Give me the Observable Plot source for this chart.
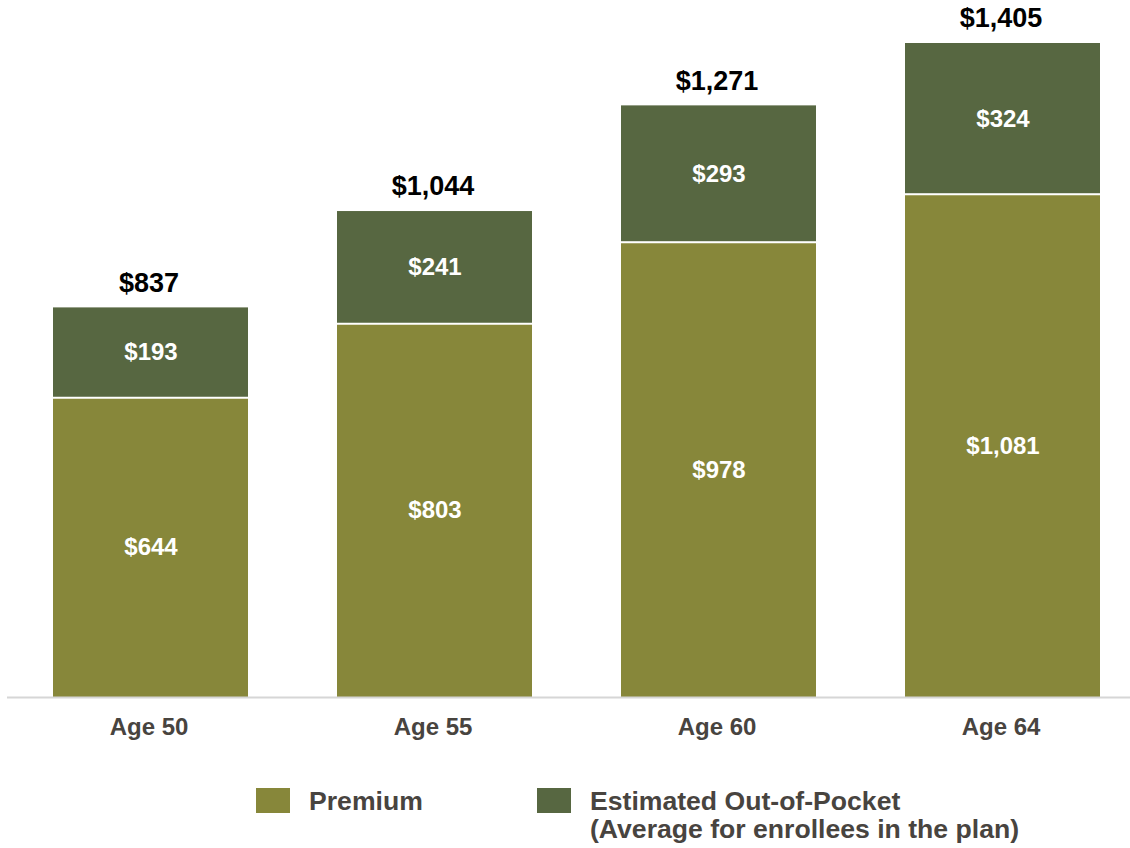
<!DOCTYPE html>
<html>
<head>
<meta charset="utf-8">
<script src="https://cdn.jsdelivr.net/npm/d3@7"></script>
<script src="https://cdn.jsdelivr.net/npm/@observablehq/plot@0.6"></script>
<style>
  html, body { margin: 0; padding: 0; background: #fff; }
  body { width: 1130px; height: 848px; overflow: hidden; font-family: Arial, "Liberation Sans", sans-serif; }
  #legend { display: flex; margin-top: 30px; padding-left: 256px; font-size: 26.6px; line-height: 28px; font-weight: bold; color: #48443f; }
  .item { display: flex; align-items: flex-start; }
  .item .sw { width: 34px; height: 25px; margin-top: 1px; margin-right: 19px; flex: none; }
</style>
</head>
<body>
<div id="chart"></div>
<div id="legend"></div>
<script>
const ages = ["Age 50", "Age 55", "Age 60", "Age 64"];
const premium = [644, 803, 978, 1081];
const outOfPocket = [193, 241, 293, 324];
const totals = [837, 1044, 1271, 1405];
const seriesNames = ["Premium", "Estimated Out-of-Pocket"];
const seriesColors = ["#87873a", "#576741"];

const rows = [];
ages.forEach((a, i) => {
  rows.push({age: a, series: seriesNames[0], value: premium[i]});
  rows.push({age: a, series: seriesNames[1], value: outOfPocket[i]});
});
const premiumRows = ages.map((a, i) => ({age: a, value: premium[i]}));
const totalRows = ages.map((a, i) => ({age: a, total: totals[i]}));
const fmt = v => "$" + d3.format(",")(v);

const chart = Plot.plot({
  width: 1130,
  height: 757,
  marginTop: 43,
  marginBottom: 60,
  marginLeft: 24,
  marginRight: 1,
  style: {fontFamily: 'Arial, "Liberation Sans", sans-serif', fontWeight: "bold", background: "#fff"},
  x: {domain: ages, paddingInner: 0.314, paddingOuter: 0.1, label: null},
  y: {domain: [0, 1405], axis: null},
  color: {domain: seriesNames, range: seriesColors},
  marks: [
    Plot.barY(rows, Plot.stackY({x: "age", y: "value", fill: "series"})),
    Plot.tickY(premiumRows, {x: "age", y: "value", stroke: "#fff", strokeWidth: 2}),
    Plot.ruleY([0], {stroke: "#d6d6d6", strokeWidth: 2, insetLeft: -17, insetRight: -1}),
    Plot.text(rows, Plot.stackY({x: "age", y: "value", text: d => fmt(d.value), fill: "#fff", fontSize: 24})),
    Plot.text(totalRows, {x: "age", y: "total", text: d => fmt(d.total), fill: "#000", fontSize: 27, dy: -25, dx: -2}),
    Plot.axisX({tickSize: 0, tickPadding: 20, fontSize: 24, fill: "#48443f", label: null, dx: -2})
  ]
});
document.getElementById("chart").appendChild(chart);

const legend = document.getElementById("legend");
const labels = [["Premium"], ["Estimated Out-of-Pocket", "(Average for enrollees in the plan)"]];
seriesNames.forEach((s, i) => {
  const item = document.createElement("div");
  item.className = "item";
  if (i === 0) item.style.width = "281px";
  const sw = document.createElement("div");
  sw.className = "sw";
  sw.style.background = seriesColors[i];
  const txt = document.createElement("div");
  txt.innerHTML = labels[i].join("<br>");
  item.appendChild(sw);
  item.appendChild(txt);
  legend.appendChild(item);
});
</script>
</body>
</html>
